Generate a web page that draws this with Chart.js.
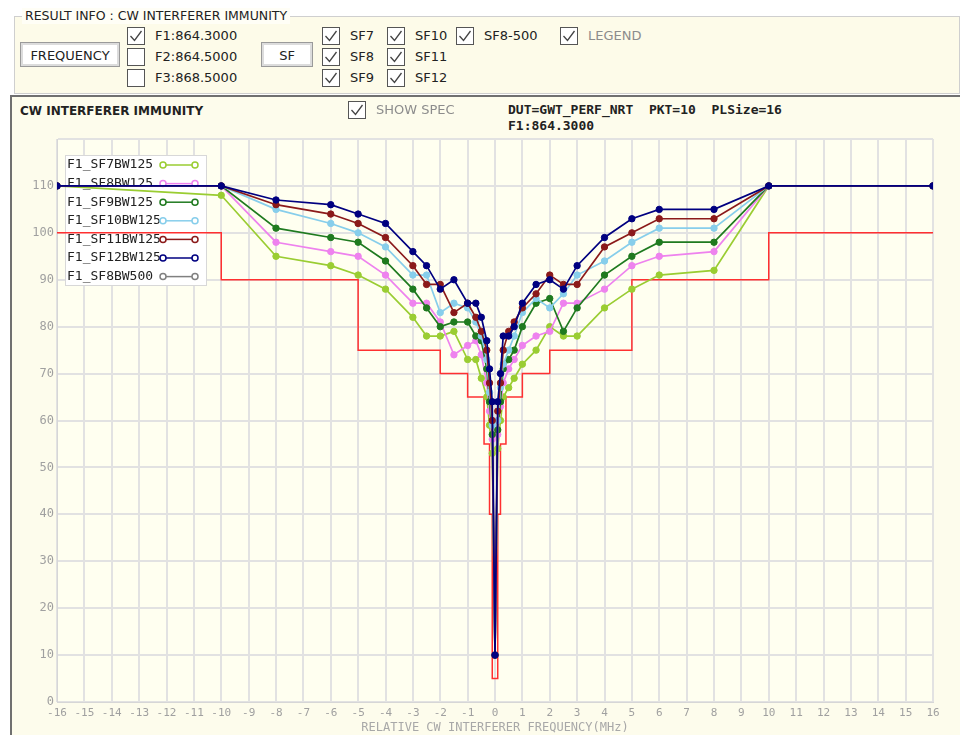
<!DOCTYPE html>
<html>
<head>
<meta charset="utf-8">
<title>CW INTERFERER IMMUNITY</title>
<script src="https://cdn.jsdelivr.net/npm/chart.js@4.4.1/dist/chart.umd.min.js"></script>
<style>
  body { margin: 0; width: 960px; height: 735px; overflow: hidden; background: #ffffff;
         font-family: "DejaVu Sans", sans-serif; font-size: 13px; color: #222; position: relative; }
  .abs { position: absolute; }
  #group { left: 14px; top: 16px; width: 944px; height: 76px; border: 1px solid #cfcfcf; background: #fdfbe9; }
  #groupTitle { left: 22px; top: 8px; padding: 0 3px; background: #fffef6; line-height: 16px; font-size: 12.5px; }
  .btn { background: #fff; border: 1px solid #9a9a9a; box-shadow: inset 0 0 0 2px #dcdcdc;
         text-align: center; line-height: 25px; height: 25px; box-sizing: border-box; }
  .cb { width: 18px; height: 18px; box-sizing: border-box; border: 1px solid #555; background: #fff; }
  .cb svg { display: block; }
  .lbl { line-height: 18px; white-space: pre; }
  .grey { color: #8c8c8c; }
  #panel { left: 10px; top: 95px; width: 950px; height: 640px; border-top: 2px solid #707070;
           border-left: 2px solid #707070; background: #fdfcec; box-sizing: border-box; }
  .mono { font-family: "DejaVu Sans Mono", monospace; font-weight: bold; white-space: pre; }
  #plot { left: 12px; top: 97px; width: 946px; height: 638px; }
</style>
</head>
<body>
<div id="group" class="abs"></div>
<div id="groupTitle" class="abs">RESULT INFO : CW INTERFERER IMMUNITY</div>
<div class="abs btn" style="left:20px;top:42px;width:100px;">FREQUENCY</div>
<div class="abs btn" style="left:261px;top:42px;width:52px;">SF</div>
<div id="panel" class="abs"></div>
<div class="abs" style="left:20px;top:103px;font-weight:bold;font-size:12px;line-height:16px;">CW INTERFERER IMMUNITY</div>
<div class="abs mono" style="left:508px;top:102px;font-size:13px;line-height:16px;">DUT=GWT_PERF_NRT  PKT=10  PLSize=16
F1:864.3000</div>
<div id="plot" class="abs"><canvas id="myChart" width="946" height="638"></canvas></div>

<script>
// check boxes of the control bar: [left, top, label, checked, greyed]
const checkBoxes = [
  [127, 27, 'F1:864.3000', true, false],
  [127, 48, 'F2:864.5000', false, false],
  [127, 69, 'F3:868.5000', false, false],
  [322, 27, 'SF7', true, false],
  [322, 48, 'SF8', true, false],
  [322, 69, 'SF9', true, false],
  [387, 27, 'SF10', true, false],
  [387, 48, 'SF11', true, false],
  [387, 69, 'SF12', true, false],
  [456, 27, 'SF8-500', true, false],
  [560, 27, 'LEGEND', true, true],
  [348, 101, 'SHOW SPEC', true, true]
];

// interferer offset from the carrier, MHz
const freqOffsets = [-16, -10, -8, -6, -5, -4, -3, -2.5, -2, -1.5, -1, -0.7, -0.5, -0.3, -0.2, -0.1, 0,
                     0.1, 0.2, 0.3, 0.5, 0.7, 1, 1.5, 2, 2.5, 3, 4, 5, 6, 8, 10, 16];

// measured immunity (dB) per spreading factor
const sf7  = [110,108,95,93,91,88,82,78,78,79,73,73,69,65,59,53,10,54,60,65,67,69,72,75,80,78,78,84,88,91,92,110,110];
const sf8  = [110,110,98,96,95,91,85,85,81,74,76,77,74,68,62,56,10,57,63,68,71,73,76,78,79,85,85,88,93,95,96,110,110];
const sf9  = [110,110,101,99,98,94,88,84,80,81,81,78,77,71,64,57,10,58,64,71,73,75,80,85,86,79,84,91,95,98,98,110,110];
const sf10 = [110,110,105,102,100,97,91,91,83,85,84,81,78,73,66,59,10,60,67,72,75,78,83,86,84,87,91,94,98,101,101,110,110];
const sf11 = [110,110,106,104,102,99,93,89,89,83,85,82,79,75,68,60,10,62,68,75,79,81,84,87,91,89,89,97,100,103,103,110,110];
const sf12 = [110,110,107,106,104,102,96,93,88,90,85,85,82,77,71,64,10,64,70,78,78,80,85,89,90,88,93,99,103,105,105,110,110];
const sf8bw500 = [];

const seriesLabels = ['F1_SF7BW125', 'F1_SF8BW125', 'F1_SF9BW125', 'F1_SF10BW125', 'F1_SF11BW125', 'F1_SF12BW125', 'F1_SF8BW500'];
const seriesColors = ['#9acd32', '#ee82ee', '#1f7a1f', '#87ceeb', '#8b1a1a', '#000080', '#808080'];
const seriesValues = [sf7, sf8, sf9, sf10, sf11, sf12, sf8bw500];

// spec mask: level holds from each edge up to the next one
const specEdges  = [-16, -10, -5, -2, -1, -0.4, -0.2, -0.1, 0.1, 0.2, 0.4, 1, 2, 5, 10, 16];
const specLevels = [100, 90, 75, 70, 65, 55, 40, 5, 40, 55, 65, 70, 75, 90, 100, 100];

const xTicksMin = -16, xTicksMax = 16;
const yTicksMin = 0, yTicksMax = 120, yStep = 10;

const MONO = '"DejaVu Sans Mono", monospace';

const checkSvg = '<svg width="16" height="16" viewBox="0 0 16 16"><polyline points="2.5,8 6.5,12.5 13.5,3" fill="none" stroke="#444" stroke-width="1.3"/></svg>';

const buildCheckBoxes = () => {
  checkBoxes.forEach(([left, top, text, checked, greyed]) => {
    const box = document.createElement('div');
    box.className = 'abs cb';
    box.style.left = left + 'px';
    box.style.top = top + 'px';
    if (checked) box.innerHTML = checkSvg;
    document.body.appendChild(box);
    const lbl = document.createElement('div');
    lbl.className = 'abs lbl' + (greyed ? ' grey' : '');
    lbl.style.left = (left + 28) + 'px';
    lbl.style.top = top + 'px';
    lbl.textContent = text;
    document.body.appendChild(lbl);
  });
};

// plot background
const areaFill = {
  id: 'areaFill',
  beforeDraw: (chart) => {
    const { ctx, chartArea: a } = chart;
    ctx.save();
    ctx.fillStyle = '#fffff0';
    ctx.fillRect(a.left, a.top, a.right - a.left, a.bottom - a.top);
    ctx.restore();
  }
};

// legend box in the upper left corner, lines drawn over it
const boxLegend = {
  id: 'boxLegend',
  beforeDatasetsDraw: (chart) => {
    const { ctx, chartArea: a } = chart;
    const x0 = a.left + 8, y0 = a.top + 16;
    ctx.save();
    ctx.fillStyle = '#ffffff';
    ctx.strokeStyle = '#d8d8d8';
    ctx.lineWidth = 1;
    ctx.fillRect(x0, y0, 141, 130);
    ctx.strokeRect(x0 + 0.5, y0 + 0.5, 141, 130);
    ctx.font = '13px ' + MONO;
    ctx.textBaseline = 'middle';
    seriesLabels.forEach((label, i) => {
      const y = y0 + 10 + i * 18.6;
      ctx.fillStyle = '#222';
      ctx.fillText(label, x0 + 2, y);
      const c = seriesColors[i];
      ctx.strokeStyle = c;
      ctx.lineWidth = 1.5;
      ctx.beginPath();
      ctx.moveTo(x0 + 98, y);
      ctx.lineTo(x0 + 130, y);
      ctx.stroke();
      [x0 + 98, x0 + 130].forEach(px => {
        ctx.beginPath();
        ctx.arc(px, y, 3, 0, Math.PI * 2);
        ctx.fillStyle = '#ffffff';
        ctx.fill();
        ctx.stroke();
      });
    });
    ctx.restore();
  }
};

let myChart;

const setup = () => {
  buildCheckBoxes();
  const context = document.getElementById('myChart').getContext('2d');

  const datasets = seriesValues.map((vals, i) => ({
    label: seriesLabels[i],
    data: vals.map((v, k) => ({ x: freqOffsets[k], y: v })),
    borderColor: seriesColors[i],
    backgroundColor: seriesColors[i],
    borderWidth: 1.7,
    pointRadius: 3.2,
    pointBorderWidth: 1,
    order: 6 - i
  }));

  datasets.push({
    label: 'SPEC',
    data: specEdges.map((e, k) => ({ x: e, y: specLevels[k] })),
    stepped: true,
    borderColor: '#ff3030',
    borderWidth: 1.5,
    pointRadius: 0,
    order: 20
  });

  myChart = new Chart(context, {
    type: 'line',
    data: { datasets },
    plugins: [areaFill, boxLegend],
    options: {
      responsive: false,
      animation: false,
      devicePixelRatio: 1,
      layout: { padding: { top: 42, right: 25, left: 0, bottom: 0 } },
      plugins: { legend: { display: false }, tooltip: { enabled: false } },
      scales: {
        x: {
          type: 'linear',
          min: xTicksMin,
          max: xTicksMax,
          afterFit: (s) => { s.height = 33; },
          ticks: { stepSize: 1, autoSkip: false, maxRotation: 0, padding: 5,
                   color: '#a0a0a0', font: { family: MONO, size: 11 } },
          grid: { color: '#e2e2e2', lineWidth: 2, drawTicks: false },
          border: { color: '#d6d6d6', width: 1 },
          title: { display: true, text: 'RELATIVE CW INTERFERER FREQUENCY(MHz)', color: '#a8a8a8',
                   font: { family: MONO, size: 12 }, padding: { top: 2, bottom: 0 } }
        },
        y: {
          min: yTicksMin,
          max: yTicksMax,
          afterFit: (s) => { s.width = 45; },
          ticks: { stepSize: yStep, padding: 3, color: '#a0a0a0', font: { family: MONO, size: 12 },
                   callback: (v) => v === yTicksMax ? '' : v },
          grid: { color: '#e2e2e2', lineWidth: 2, drawTicks: false },
          border: { color: '#d6d6d6', width: 1 }
        }
      }
    }
  });
};

window.addEventListener('DOMContentLoaded', setup);
</script>
</body>
</html>
